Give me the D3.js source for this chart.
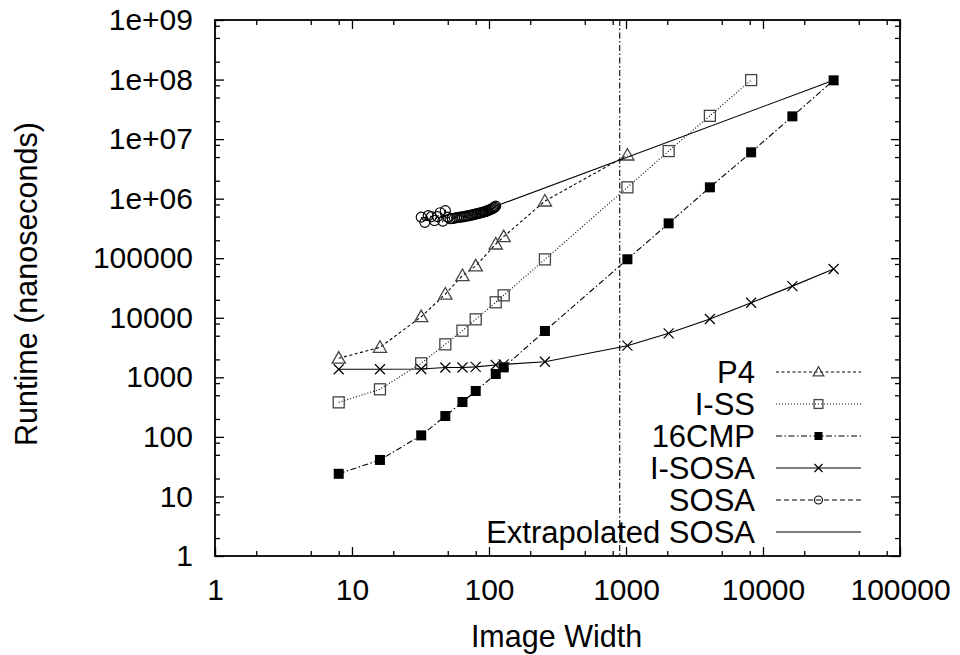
<!DOCTYPE html>
<html>
<head>
<meta charset="utf-8">
<script src="https://cdn.jsdelivr.net/npm/d3@7"></script>
<style>
body { margin: 0; background: #fff; }
text { font-family: "Liberation Sans", Arial, Helvetica, sans-serif; fill: #000; }
</style>
</head>
<body>
<script>
// data
const widths = [8, 16, 32, 48, 64, 80, 112, 128, 256, 1024, 2048, 4096, 8192, 16384, 32768];
const p4Runtime = [2090, 3190, 10400, 25000, 51000, 74000, 173000, 230000, 912000, 5.4e6];
const issRuntime = [380, 630, 1720, 3580, 6070, 9420, 18200, 23800, 95600, 1.55e6, 6.3e6, 2.46e7, 9.8e7];
const cmpRuntime = [24, 41, 106, 224, 385, 590, 1137, 1470, 6000, 96000, 3.85e5, 1.55e6, 6.0e6, 2.41e7, 9.7e7];
const isosaRuntime = [1365, 1365, 1380, 1460, 1460, 1500, 1610, 1650, 1830, 3400, 5480, 9530, 17900, 34000, 66000];
const sosaWidths = [32, 34, 36, 38, 40, 42, 44, 46, 48, 50, 52, 54, 56, 58, 60, 62, 64, 66, 68, 70,
  72, 74, 76, 78, 80, 82, 84, 86, 88, 90, 92, 94, 96, 98, 100, 102, 104, 106, 108, 110, 112];
const sosaRuntime = [4.9e5, 4.0e5, 5.2e5, 5.0e5, 4.3e5, 5.0e5, 5.8e5, 4.2e5, 6.3e5, 4.9e5, 4.6e5,
  4.65e5, 4.7e5, 4.8e5, 4.85e5, 4.9e5, 4.95e5, 5.0e5, 5.1e5, 5.15e5, 5.2e5, 5.3e5, 5.35e5, 5.45e5,
  5.5e5, 5.6e5, 5.7e5, 5.75e5, 5.85e5, 5.9e5, 6.0e5, 6.1e5, 6.2e5, 6.3e5, 6.45e5, 6.55e5, 6.7e5,
  6.85e5, 7.0e5, 7.2e5, 7.5e5];
const extraWidths = [112, 32768];
const extraRuntime = [7.5e5, 9.7e7];
const markerWidth = [900];

const xTicks = [1, 10, 100, 1000, 10000, 100000];
const xTickLabels = ["1", "10", "100", "1000", "10000", "100000"];
const yTicks = [1, 10, 100, 1000, 10000, 100000, 1e6, 1e7, 1e8, 1e9];
const yTickLabels = ["1", "10", "100", "1000", "10000", "100000", "1e+06", "1e+07", "1e+08", "1e+09"];
const minorSteps = [2, 5, 8];

const W = 960, H = 655;
const plotL = 215, plotR = 900, plotT = 20, plotB = 556;

const svg = d3.select("body").append("svg")
    .attr("width", W)
    .attr("height", H);

const x = d3.scaleLog().domain([1, 1e5]).range([plotL, plotR]);
const y = d3.scaleLog().domain([1, 1e9]).range([plotB, plotT]);

const minorOf = ticks => ticks.slice(0, -1).flatMap(t => minorSteps.map(m => t * m));

// axes, ticks pointing inward on all four sides
function drawAxis(axis, translate, labels) {
  const g = svg.append("g").attr("transform", translate).call(axis);
  g.select(".domain").remove();
  g.selectAll(".tick line").attr("stroke", "#000").attr("stroke-width", 1.3);
  if (labels) g.selectAll("text").attr("font-size", 30).attr("fill", "#000");
  else g.selectAll("text").remove();
  return g;
}

drawAxis(d3.axisBottom(x).tickValues(xTicks).tickFormat((d, i) => xTickLabels[i]).tickSize(-9).tickPadding(23),
  `translate(0,${plotB})`, true);
drawAxis(d3.axisBottom(x).tickValues(minorOf(xTicks)).tickSize(-5), `translate(0,${plotB})`, false);
drawAxis(d3.axisTop(x).tickValues(xTicks).tickSize(-9), `translate(0,${plotT})`, false);
drawAxis(d3.axisTop(x).tickValues(minorOf(xTicks)).tickSize(-5), `translate(0,${plotT})`, false);

drawAxis(d3.axisLeft(y).tickValues(yTicks).tickFormat((d, i) => yTickLabels[i]).tickSize(-9).tickPadding(22),
  `translate(${plotL},0)`, true);
drawAxis(d3.axisLeft(y).tickValues(minorOf(yTicks)).tickSize(-5), `translate(${plotL},0)`, false);
drawAxis(d3.axisRight(y).tickValues(yTicks).tickSize(-9), `translate(${plotR},0)`, false);
drawAxis(d3.axisRight(y).tickValues(minorOf(yTicks)).tickSize(-5), `translate(${plotR},0)`, false);

svg.append("rect")
    .attr("x", plotL).attr("y", plotT)
    .attr("width", plotR - plotL).attr("height", plotB - plotT)
    .attr("fill", "none").attr("stroke", "#000").attr("stroke-width", 1.8);

// axis titles
svg.append("text")
    .attr("x", (plotL + plotR) / 2 - 1).attr("y", 647)
    .attr("text-anchor", "middle").attr("font-size", 30.5)
    .text("Image Width");
svg.append("text")
    .attr("transform", `translate(37,${(plotT + plotB) / 2 - 4}) rotate(-90)`)
    .attr("text-anchor", "middle").attr("font-size", 30.5)
    .text("Runtime (nanoseconds)");

// vertical reference line
svg.selectAll(".vref").data(markerWidth).enter().append("line")
    .attr("x1", d => x(d)).attr("x2", d => x(d))
    .attr("y1", plotT).attr("y2", plotB)
    .attr("stroke", "#000").attr("stroke-width", 1.1)
    .attr("stroke-dasharray", "6,2.5,1.5,2.5");

// markers
const sym = {
  triangle: (g, s) => g.append("path").attr("d", `M0,${-s * 0.6}L${s * 0.6},${s * 0.45}L${-s * 0.6},${s * 0.45}Z`)
      .attr("fill", "none").attr("stroke", "#444").attr("stroke-width", 1.3),
  square: (g, s) => g.append("rect").attr("x", -s / 2).attr("y", -s / 2).attr("width", s).attr("height", s)
      .attr("fill", "none").attr("stroke", "#444").attr("stroke-width", 1.3),
  filled: (g, s) => g.append("rect").attr("x", -s / 2).attr("y", -s / 2).attr("width", s).attr("height", s)
      .attr("fill", "#000"),
  cross: (g, s) => g.append("path").attr("d", `M${-s / 2},${-s / 2}L${s / 2},${s / 2}M${-s / 2},${s / 2}L${s / 2},${-s / 2}`)
      .attr("fill", "none").attr("stroke", "#000").attr("stroke-width", 1.2),
  circle: (g, s) => g.append("circle").attr("r", s / 2)
      .attr("fill", "none").attr("stroke", "#000").attr("stroke-width", 1.1),
  none: () => {}
};

const series = [
  { name: "P4", xs: widths.slice(0, p4Runtime.length), ys: p4Runtime, dash: "3,2.5", mark: "triangle", size: 11 },
  { name: "I-SS", xs: widths.slice(0, issRuntime.length), ys: issRuntime, dash: "1,2", mark: "square", size: 11 },
  { name: "16CMP", xs: widths, ys: cmpRuntime, dash: "6,2.5,1.5,2.5", mark: "filled", size: 10 },
  { name: "I-SOSA", xs: widths, ys: isosaRuntime, dash: null, mark: "cross", size: 10 },
  { name: "SOSA", xs: sosaWidths, ys: sosaRuntime, dash: "5,3", mark: "circle", size: 10 },
  { name: "Extrapolated SOSA", xs: extraWidths, ys: extraRuntime, dash: null, mark: "none", size: 0 }
];

const line = d3.line().x(d => x(d[0])).y(d => y(d[1]));

series.forEach(s => {
  const pts = s.xs.map((v, i) => [v, s.ys[i]]);
  svg.append("path")
      .datum(pts)
      .attr("d", line)
      .attr("fill", "none")
      .attr("stroke", "#000")
      .attr("stroke-width", 1.1)
      .attr("stroke-dasharray", s.dash);
  pts.forEach(p => {
    const g = svg.append("g").attr("transform", `translate(${x(p[0])},${y(p[1])})`);
    sym[s.mark](g, s.size);
  });
});

// legend
const legY0 = 372, legStep = 32, legTextX = 755, legX1 = 776, legX2 = 861;
series.forEach((s, i) => {
  const ly = legY0 + i * legStep;
  svg.append("text")
      .attr("x", legTextX).attr("y", ly + 11)
      .attr("text-anchor", "end").attr("font-size", 31)
      .text(s.name);
  svg.append("line")
      .attr("x1", legX1).attr("x2", legX2).attr("y1", ly).attr("y2", ly)
      .attr("stroke", "#000").attr("stroke-width", 1.1)
      .attr("stroke-dasharray", s.dash);
  const g = svg.append("g").attr("transform", `translate(${(legX1 + legX2) / 2},${ly})`);
  sym[s.mark](g, s.size * 0.8);
});
</script>
</body>
</html>
